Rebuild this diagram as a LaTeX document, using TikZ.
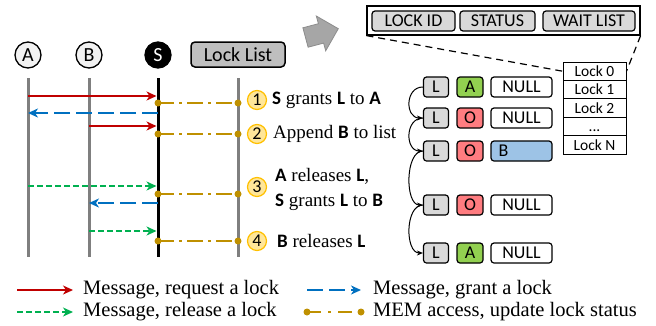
\documentclass[tikz,border=0pt]{standalone}
\usepackage{fontspec}
\setmainfont{Liberation Serif}
\newfontfamily\carl{Carlito}
\usetikzlibrary{arrows.meta}
\newcommand\bk[1]{\mbox{\carl\bfseries #1}\rmfamily\mdseries}
\definecolor{reqred}{HTML}{C00000}
\definecolor{grantblue}{HTML}{0070C0}
\definecolor{relgreen}{HTML}{00B050}
\definecolor{memgold}{HTML}{BF9000}
\definecolor{lifegray}{HTML}{7F7F7F}
\definecolor{boxgray}{HTML}{D9D9D9}
\definecolor{listgray}{HTML}{BFBFBF}
\definecolor{stepfill}{HTML}{FFE699}
\definecolor{stepring}{HTML}{FFC000}
\definecolor{okgreen}{HTML}{92D050}
\definecolor{busyred}{HTML}{FF7C80}
\definecolor{waitblue}{HTML}{9DC3E6}
\tikzset{
  actor/.style={circle, draw, line width=1.3pt, minimum size=26pt, inner sep=0pt,
    fill=black!5, font=\carl\fontsize{20}{22}\selectfont},
  lifeline/.style={line width=3pt, draw=lifegray},
  req/.style={draw=reqred, line width=1.8pt, -{Stealth[length=10pt,width=9pt,inset=3pt]}, shorten >=1.5pt},
  grant/.style={draw=grantblue, line width=1.8pt, dash pattern=on 16pt off 6pt,
    -{Stealth[length=10pt,width=9pt,inset=3pt]}},
  release/.style={draw=relgreen, line width=1.8pt, dash pattern=on 6pt off 3pt,
    -{Stealth[length=10pt,width=9pt,inset=3pt]}, shorten >=1.5pt},
  mem/.style={draw=memgold, line width=1.8pt, dash pattern=on 16pt off 5pt on 3pt off 5pt},
  memdot/.style={circle, fill=memgold, inner sep=0pt, minimum size=7pt},
  stepnum/.style={circle, draw=stepring, fill=stepfill, line width=1.2pt, minimum size=19pt,
    inner sep=0pt, font=\carl\fontsize{18}{20}\selectfont},
  steptext/.style={anchor=west, inner sep=0pt, align=left,
    font=\rmfamily\fontsize{19}{25}\selectfont},
  cell/.style={draw, rounded corners=3pt, line width=1.2pt, minimum height=20pt,
    inner sep=0pt, font=\carl\fontsize{18}{20}\selectfont},
  lockrow/.style={draw, line width=1pt, minimum width=63pt, minimum height=18.4pt,
    inner sep=0pt, font=\carl\fontsize{15.5}{16}\selectfont},
  link/.style={line width=1pt, -{Stealth[length=6pt,width=5pt]}},
  legendtext/.style={anchor=west, inner sep=0pt, font=\fontsize{20.5}{22}\selectfont},
}
\begin{document}
\begin{tikzpicture}[x=1pt, y=-1pt]
\path[use as bounding box] (0,0) rectangle (656,325);

% participants
\node[actor] (A) at (28,55) {A};
\node[actor] (B) at (89,55) {B};
\node[actor, fill=black, text=white] (S) at (158,55) {S};
\node[draw, rounded corners=4pt, line width=1.5pt, fill=listgray, minimum width=94pt,
  minimum height=25pt, inner sep=0pt, font=\carl\fontsize{20}{22}\selectfont] (LL) at (238,54.5) {Lock List};

% lifelines
\coordinate (top) at (0,78);
\coordinate (bot) at (0,257);
\draw[lifeline] (A |- top) -- (A |- bot);
\draw[lifeline] (B |- top) -- (B |- bot);
\draw[lifeline] (LL |- top) -- (LL |- bot);
\draw[line width=3pt] (S |- top) -- (S |- bot);

% message levels
\coordinate (m1) at (0,96);
\coordinate (k1) at (0,103);
\coordinate (m2) at (0,113);
\coordinate (m3) at (0,126);
\coordinate (k2) at (0,134);
\coordinate (m4) at (0,186);
\coordinate (k3) at (0,194);
\coordinate (m5) at (0,203);
\coordinate (m6) at (0,231);
\coordinate (k4) at (0,241);

\draw[req] (A |- m1) -- (S |- m1);
\draw[grant] (S |- m2) -- (A |- m2);
\draw[req] (B |- m3) -- (S |- m3);
\draw[release] (A |- m4) -- (S |- m4);
\draw[grant] (S |- m5) -- (B |- m5);
\draw[release] (B |- m6) -- (S |- m6);

\foreach \k in {k1,k2,k3,k4}{
  \draw[mem] (S |- \k) -- (LL |- \k);
  \node[memdot] at (S |- \k) {};
  \node[memdot] at (LL |- \k) {};
}

% steps
\node[stepnum] (n1) at (257,100) {1};
\node[stepnum] (n2) at (257,134) {2};
\node[stepnum] (n3) at (257,187) {3};
\node[stepnum] (n4) at (257,241) {4};
\node[steptext] (t1) at (272,100) {\bk{S} grants \bk{L} to \bk{A}};
\node[steptext] (t2) at (273,134) {Append \bk{B} to list};
\node[steptext] (t3) at (275,189) {\bk{A} releases \bk{L},\\\bk{S} grants \bk{L} to \bk{B}};
\node[steptext] (t4) at (277,241) {\bk{B} releases \bk{L}};

% zoom arrow
\draw[fill=black!35, draw=black!45, line width=0.8pt]
  (302.9,27.8) -- (318.4,23.7) -- (316.3,16.0) -- (338.3,28.7) -- (325.7,50.8)
  -- (323.6,43.1) -- (308.1,47.2) -- cycle;

% entry layout
\node[draw, line width=1.2pt, minimum width=273pt, minimum height=29pt, inner sep=0pt] (hdr) at (503.5,20.5) {};
\node[cell, fill=boxgray, minimum width=83pt] (hid) at (413.5,21) {LOCK ID};
\node[cell, fill=boxgray, minimum width=75pt] (hst) at (497.5,21) {STATUS};
\node[cell, fill=boxgray, minimum width=92pt] (hwl) at (589,21) {WAIT LIST};

% lock table
\node[lockrow] (lk0) at (594.5,71.2) {Lock 0};
\node[lockrow] (lk1) at (594.5,89.6) {Lock 1};
\node[lockrow] (lk2) at (594.5,108.0) {Lock 2};
\node[lockrow] (lkd) at (594.5,126.4) {};
\node[font=\carl\fontsize{15.5}{16}\selectfont, inner sep=0pt, anchor=base] (dots) at ([yshift=4.5pt]lkd.south) {...};
\node[lockrow] (lkn) at (594.5,144.8) {Lock N};

\draw[line width=1.2pt, dash pattern=on 7pt off 5pt] (hdr.south west) -- (lk0.west);
\draw[line width=1.2pt, dash pattern=on 7pt off 5pt] (hdr.south east) -- (lk0.east);

% lock entries over time
\foreach \r/\y/\st/\col/\wcol in {1/87/A/okgreen/white, 2/118/O/busyred/white,
    3/151/O/busyred/waitblue, 4/205/O/busyred/white, 5/253/A/okgreen/white}{
  \node[cell, fill=boxgray, minimum width=25pt] (L\r) at (436,\y) {L};
  \node[cell, fill=\col, minimum width=26pt] (st\r) at (470,\y) {\st};
  \node[cell, fill=\wcol, minimum width=61pt] (wl\r) at (521.5,\y) {};
}
\foreach \r in {1,2,4,5}{ \node[font=\carl\fontsize{18}{20}\selectfont, inner sep=0pt] at (wl\r) {NULL}; }
\node[font=\carl\fontsize{18}{20}\selectfont, inner sep=0pt, anchor=west] at ([xshift=8pt]wl3.west) {B};

\foreach \a/\b in {1/2,2/3,3/4,4/5}{
  \draw[link] (L\a.west) .. controls +(-18,0) and +(-18,0) .. (L\b.west);
}

% legend
\coordinate (g1) at (0,290);
\coordinate (g2) at (0,312);
\coordinate (gl0) at (17,0);
\coordinate (gl1) at (73,0);
\coordinate (gr0) at (307,0);
\coordinate (gr1) at (361,0);
\draw[req, shorten >=0pt] (gl0 |- g1) -- (gl1 |- g1);
\draw[release, shorten >=0pt] (gl0 |- g2) -- (gl1 |- g2);
\draw[grant] (gr0 |- g1) -- (gr1 |- g1);
\draw[mem, dash pattern=on 14pt off 7pt on 3pt off 7pt] (gr0 |- g2) -- (gr1 |- g2);
\node[memdot] at (gr0 |- g2) {};
\node[memdot] at (gr1 |- g2) {};
\node[legendtext] (lg1) at (83,290) {Message, request a lock};
\node[legendtext] (lg2) at (83,312) {Message, release a lock};
\node[legendtext] (lg3) at (373,290) {Message, grant a lock};
\node[legendtext] (lg4) at (373,312) {MEM access, update lock status};
\end{tikzpicture}
\end{document}
